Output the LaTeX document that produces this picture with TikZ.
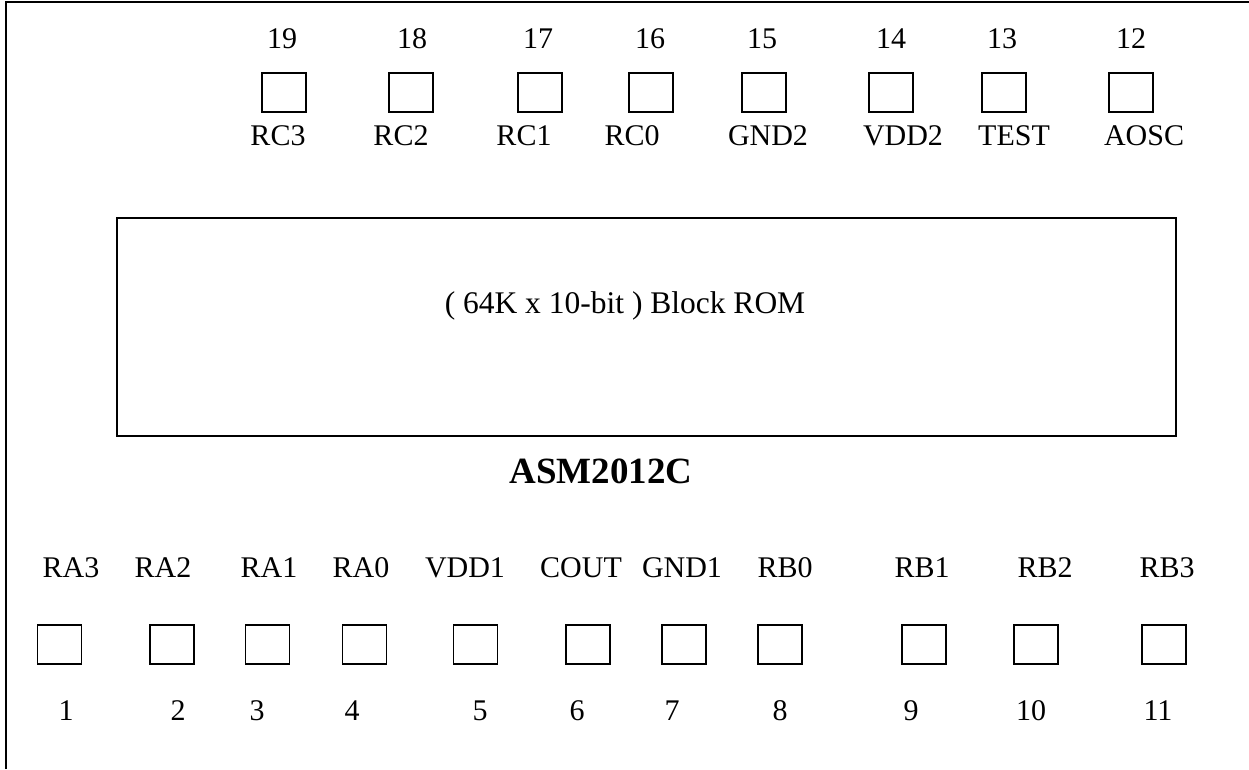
\documentclass[tikz,border=0pt]{standalone}
\usepackage{fontspec}
\setmainfont{Liberation Serif}
\tikzset{
pad/.style={draw, line width=1.5pt, minimum width=44pt, minimum height=39pt, inner sep=0pt},
pintext/.style={anchor=base, inner sep=0pt, font=\fontsize{30}{36}\selectfont},
}

\begin{document}
\begin{tikzpicture}[x=1pt,y=-1pt]
\useasboundingbox (0,0) rectangle (1249,769);
\draw[line width=2pt] (6,769) -- (6,2) -- (1249,2);
% upper pads
\foreach \n/\bx/\nx/\lx/\lab in {19/284/282/278/RC3, 18/411/412/401/RC2,
  17/540/538/524/RC1, 16/651/650/632/RC0, 15/764/762/768/GND2,
  14/891/891/903/VDD2, 13/1004/1002/1014/TEST, 12/1131/1131/1144/AOSC}{
\node[pad] (pad\n) at (\bx,92.5) {};
\node[pintext] (num\n) at (\nx,48) {\n};
\node[pintext] (lab\n) at (\lx,145) {\lab};
}
% lower pads
\foreach \n/\bx/\nx/\lx/\lab in {1/59.5/66/71/RA3, 2/172/178/163/RA2,
  3/267.5/257/269/RA1, 4/364.5/352/361/RA0, 5/475.5/480/465/VDD1,
  6/588/577/581/COUT, 7/684/672/682/GND1, 8/780/780/785/RB0,
  9/924/911/922/RB1, 10/1036/1031/1045/RB2, 11/1164/1158/1167/RB3}{
\node[pad] (pad\n) at (\bx,644.5) {};
\node[pintext] (num\n) at (\nx,720) {\n};
\node[pintext] (lab\n) at (\lx,577) {\lab};
}
\node[draw, line width=2pt, minimum width=1059pt, minimum height=218pt] (rom) at (646.5,327) {};
\node[pintext, font=\fontsize{31.5}{38}\selectfont] (romtext) at (625,313) {( 64K x 10-bit ) Block ROM};
\node[anchor=base, inner sep=0pt, font=\bfseries\fontsize{37}{44}\selectfont] (chip) at (601,483) {ASM2012C};
\end{tikzpicture}
\end{document}
